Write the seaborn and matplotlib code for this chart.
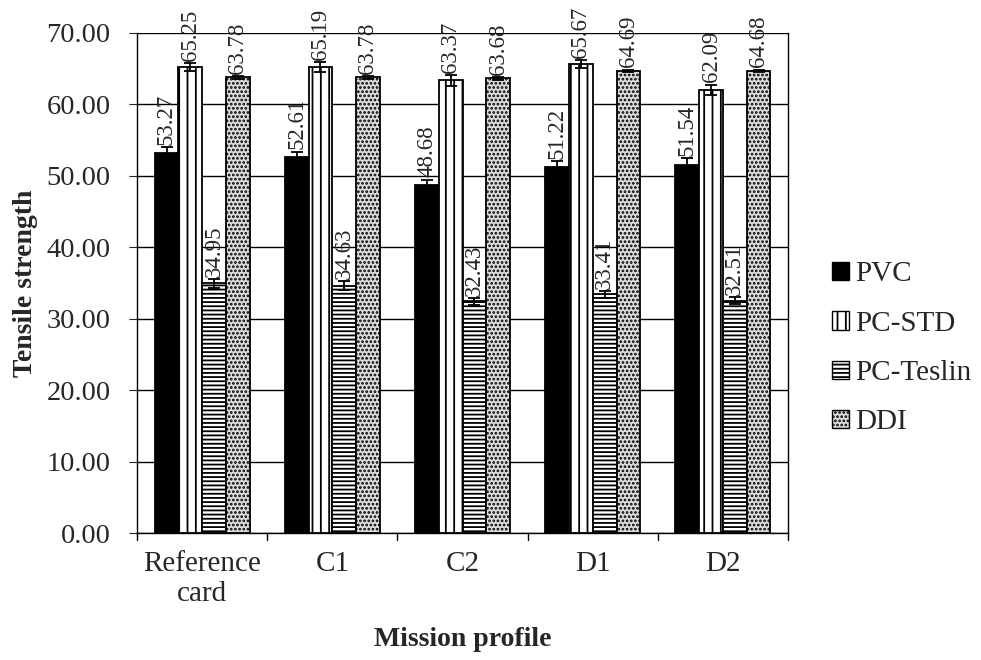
import numpy as np
import pandas as pd
import seaborn as sns
import matplotlib.pyplot as plt
from matplotlib.patches import Patch

# Data
profiles = ["Reference\ncard", "C1", "C2", "D1", "D2"]
materials = ["PVC", "PC-STD", "PC-Teslin", "DDI"]
pvc = [53.27, 52.61, 48.68, 51.22, 51.54]
pc_std = [65.25, 65.19, 63.37, 65.67, 62.09]
pc_teslin = [34.95, 34.63, 32.43, 33.41, 32.51]
ddi = [63.78, 63.78, 63.68, 64.69, 64.68]
err_pvc = [0.8, 0.8, 0.8, 0.8, 0.9]
err_std = [0.6, 0.7, 0.8, 0.5, 0.7]
err_teslin = [0.6, 0.6, 0.5, 0.5, 0.5]
err_ddi = [0.2, 0.2, 0.2, 0.2, 0.2]

values = [pvc, pc_std, pc_teslin, ddi]
errors = [err_pvc, err_std, err_teslin, err_ddi]

rows = []
for m, vals in zip(materials, values):
    for p, v in zip(profiles, vals):
        rows.append({"profile": p, "material": m, "value": v})
df = pd.DataFrame(rows)

sns.set_style("white")
plt.rcParams["font.family"] = ["Liberation Serif", "DejaVu Serif"]
plt.rcParams["hatch.linewidth"] = 1.3

fig = plt.figure(figsize=(9.81, 6.6), dpi=100)
ax = fig.add_axes([0.1397, 0.1924, 0.6636, 0.7576])

sns.barplot(data=df, x="profile", y="value", hue="material", order=profiles,
            hue_order=materials, errorbar=None, width=0.73, ax=ax,
            edgecolor="black", linewidth=1.3, legend=False)

faces = ["black", "white", "white", "#dcdcdc"]
hatches = [None, "||", "----", "...."]
bar_containers = list(ax.containers)[:4]
for i, cont in enumerate(bar_containers):
    for bar, e in zip(cont, errors[i]):
        bar.set_facecolor(faces[i])
        if hatches[i]:
            bar.set_hatch(hatches[i])
        x = bar.get_x() + bar.get_width() / 2
        h = bar.get_height()
        ax.errorbar(x, h, yerr=e, color="black", capsize=4, lw=1.3,
                    capthick=1.3, zorder=5)
        ax.text(x, h + e + 0.3, f"{h:.2f}", rotation=90, ha="center",
                va="bottom", fontsize=16.5, zorder=6)

ax.set_ylim(0, 70)
ax.set_yticks(np.arange(0, 71, 10))
ax.set_yticklabels([f"{t:.2f}" for t in np.arange(0, 71, 10)], fontsize=20.5)
ax.yaxis.grid(True, color="black", lw=1)
ax.set_axisbelow(True)
ax.set_xlim(-0.5, 4.5)
ax.tick_params(axis="x", labelsize=21, length=0, pad=13)
ax.tick_params(axis="y", length=6, direction="out", left=True, pad=13)
for b in np.arange(-0.5, 5, 1):
    ax.plot([b, b], [0, -1.0], color="black", lw=1, clip_on=False)
for s in ax.spines.values():
    s.set_color("black")
    s.set_linewidth(1)
ax.spines["top"].set_visible(False)

ax.set_xlabel("Mission profile", fontsize=20, fontweight="bold", labelpad=14)
ax.set_ylabel("Tensile strength", fontsize=20, fontweight="bold", labelpad=6)

handles = [Patch(facecolor=faces[i], edgecolor="black", hatch=hatches[i],
                 label=materials[i]) for i in range(4)]
fig.legend(handles=handles, loc="center left", bbox_to_anchor=(0.833, 0.472),
           frameon=False, fontsize=21, handlelength=0.6, handleheight=0.6,
           handletextpad=0.2, labelspacing=0.8, borderpad=0)

fig.savefig("out.png", dpi=100)
